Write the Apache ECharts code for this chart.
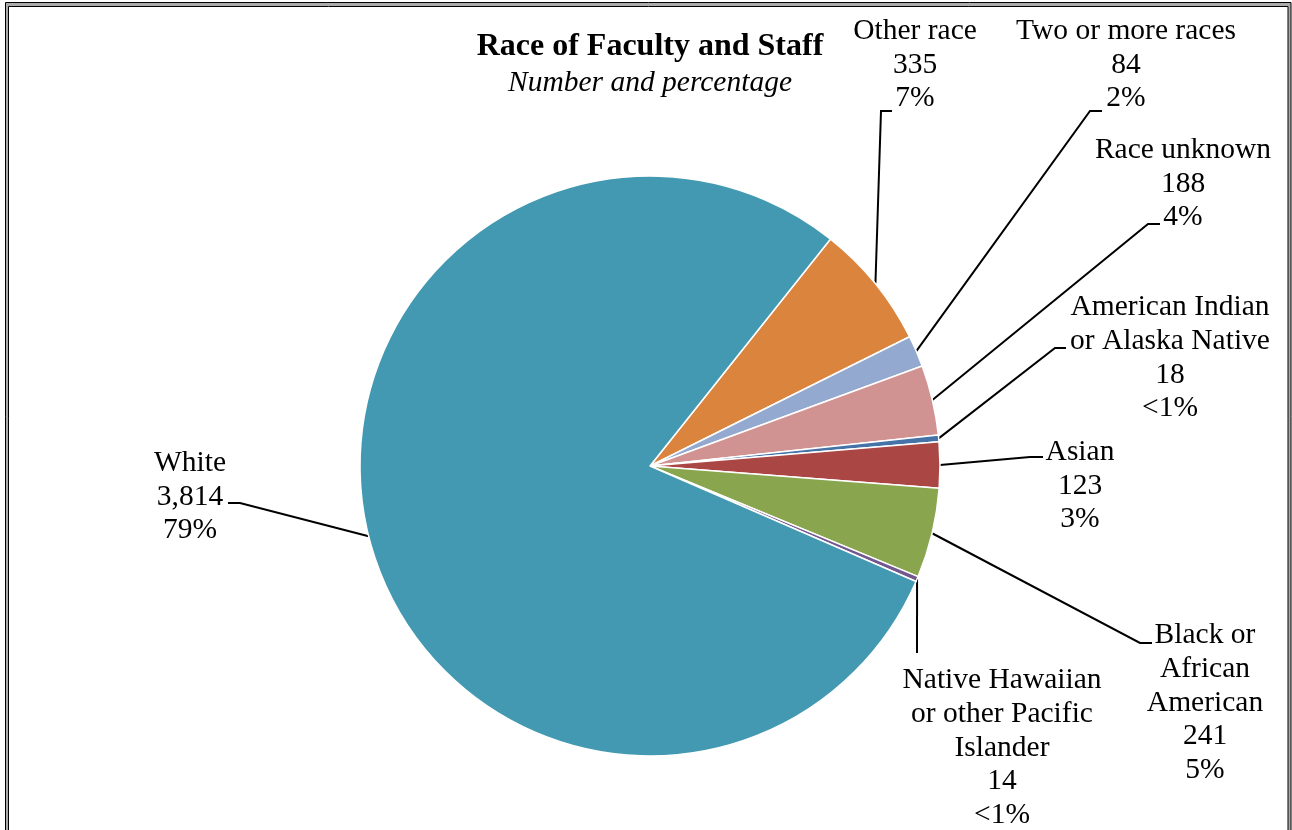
<!DOCTYPE html>
<html>
<head>
<meta charset="utf-8">
<script src="https://cdn.jsdelivr.net/npm/echarts@6/dist/echarts.min.js"></script>
<style>
  html, body { margin: 0; padding: 0; background: #fff; }
  #chart { width: 1292px; height: 830px; }
</style>
</head>
<body>
<div id="chart"></div>
<script>
// data, clockwise from the top
var raceNames = [
    'Other race',
    'Two or more races',
    'Race unknown',
    'American Indian\nor Alaska Native',
    'Asian',
    'Black or\nAfrican\nAmerican',
    'Native Hawaiian\nor other Pacific\nIslander',
    'White'
];
var headcounts = [335, 84, 188, 18, 123, 241, 14, 3814];

var total = headcounts.reduce(function (a, b) { return a + b; }, 0);

// label block centre + elbow + end of the leader line (px)
var labelSpots = [
    { x: 915,  y: 65,  elbow: [881, 111],  end: [892, 111] },
    { x: 1126, y: 65,  elbow: [1090, 111], end: [1102, 111] },
    { x: 1183, y: 184, elbow: [1148, 224], end: [1160, 224] },
    { x: 1170, y: 358, elbow: [1055, 348], end: [1066, 348] },
    { x: 1080, y: 486, elbow: [1030, 457], end: [1043, 457] },
    { x: 1205, y: 703, elbow: [1140, 643], end: [1152, 643] },
    { x: 1002, y: 748, elbow: [917, 653],  end: [917, 653] },
    { x: 190,  y: 497, elbow: [240, 503],  end: [228, 503] }
];

var cx = 650, cy = 466, R = 290, startAngle = 51.5;

function midPoint(idx) {
    var before = 0;
    for (var i = 0; i < idx; i++) before += headcounts[i];
    var a = (startAngle - 360 * (before + headcounts[idx] / 2) / total) * Math.PI / 180;
    return [cx + R * Math.cos(a), cy - R * Math.sin(a)];
}

var chart = echarts.init(document.getElementById('chart'));

var option = {
    animation: false,
    color: ['#DB843D', '#93A9CF', '#D19392', '#4572A7', '#AA4643', '#89A54E', '#71588F', '#4399B1'],
    title: {
        text: 'Race of Faculty and Staff',
        subtext: 'Number and percentage',
        left: 650,
        top: 31,
        padding: 0,
        textAlign: 'center',
        itemGap: 5,
        textStyle: {
            fontFamily: 'Liberation Serif',
            fontWeight: 'bold',
            fontSize: 32,
            color: '#000'
        },
        subtextStyle: {
            fontFamily: 'Liberation Serif',
            fontStyle: 'italic',
            fontSize: 29.5,
            color: '#000'
        }
    },
    graphic: [
        { type: 'rect', silent: true, shape: { x: 7, y: 4.5, width: 1282.5, height: 900 },
          style: { fill: null, stroke: '#aaa', lineWidth: 3 } },
        { type: 'rect', silent: true, shape: { x: 5.5, y: 2.5, width: 1285.5, height: 900 },
          style: { fill: null, stroke: '#000', lineWidth: 1 } },
        { type: 'rect', silent: true, shape: { x: 8.5, y: 6.5, width: 1279.5, height: 900 },
          style: { fill: null, stroke: '#000', lineWidth: 1 } }
    ],
    series: [
        {
            name: 'Race',
            type: 'pie',
            center: [cx, cy],
            radius: [0, R],
            startAngle: startAngle,
            clockwise: true,
            avoidLabelOverlap: false,
            itemStyle: {
                borderColor: '#fff',
                borderWidth: 1.5
            },
            label: {
                show: true,
                position: 'outside',
                fontFamily: 'Liberation Serif',
                fontSize: 29.5,
                lineHeight: 33.7,
                color: '#000',
                align: 'center',
                formatter: function (p) {
                    var pct = p.value / total * 100;
                    var pctText = pct < 1 ? '<1%' : Math.round(pct) + '%';
                    return p.name + '\n' + p.value.toLocaleString('en-US') + '\n' + pctText;
                }
            },
            labelLine: {
                show: true,
                length: 10,
                length2: 10,
                lineStyle: { color: '#000', width: 2 }
            },
            labelLayout: function (params) {
                var s = labelSpots[params.dataIndex];
                var start = midPoint(params.dataIndex);
                return {
                    x: s.x,
                    y: s.y,
                    align: 'center',
                    verticalAlign: 'middle',
                    labelLinePoints: [start, s.elbow, s.end]
                };
            },
            emphasis: { disabled: true },
            data: raceNames.map(function (n, i) {
                return { name: n, value: headcounts[i] };
            })
        }
    ]
};

chart.setOption(option);
</script>
</body>
</html>
